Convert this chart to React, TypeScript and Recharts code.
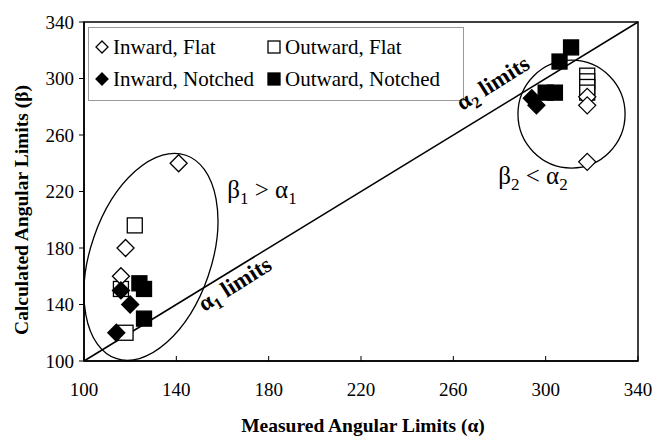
import React from 'react';
import {
  ScatterChart,
  Scatter,
  XAxis,
  YAxis,
  ReferenceLine,
  ReferenceArea,
} from 'recharts';

// measured (alpha) vs calculated (beta) angular limits
const inwardFlat = [
  { x: 141, y: 240 },
  { x: 118, y: 180 },
  { x: 116, y: 160 },
  { x: 318, y: 287 },
  { x: 318, y: 281 },
  { x: 318, y: 241 },
];
const outwardFlat = [
  { x: 122, y: 196 },
  { x: 116, y: 151 },
  { x: 118, y: 120 },
  { x: 318, y: 302 },
  { x: 318, y: 298 },
  { x: 318, y: 294 },
  { x: 318, y: 290 },
];
const inwardNotched = [
  { x: 116, y: 150 },
  { x: 120, y: 140 },
  { x: 114, y: 120 },
  { x: 294, y: 286 },
  { x: 296, y: 281 },
];
const outwardNotched = [
  { x: 124, y: 155 },
  { x: 126, y: 151 },
  { x: 126, y: 130 },
  { x: 311, y: 322 },
  { x: 306, y: 312 },
  { x: 300, y: 290 },
  { x: 304, y: 290 },
];
const ticks = [100, 140, 180, 220, 260, 300, 340];

const FONT = '"Liberation Serif", "Times New Roman", serif';

const Diamond = (props: any) => {
  const { cx, cy, fill } = props;
  const r = 8.5;
  return (
    <polygon
      points={`${cx},${cy - r} ${cx + r},${cy} ${cx},${cy + r} ${cx - r},${cy}`}
      fill={fill}
      stroke="#000"
      strokeWidth={1.3}
    />
  );
};

const Square = (props: any) => {
  const { cx, cy, fill } = props;
  const r = 7.5;
  return <rect x={cx - r} y={cy - r} width={2 * r} height={2 * r} fill={fill} stroke="#000" strokeWidth={1.3} />;
};

// tilted ellipse fitted to the reference area bounding box
const TiltedEllipse = (props: any) => {
  const { x, y, width, height } = props;
  const deg = 19;
  const t = (deg * Math.PI) / 180;
  const s2 = Math.sin(t) ** 2;
  const c2 = Math.cos(t) ** 2;
  const W = width / 2;
  const H = height / 2;
  const a = Math.sqrt((H * H * c2 - W * W * s2) / (c2 - s2));
  const b = Math.sqrt((W * W * c2 - H * H * s2) / (c2 - s2));
  const cx = x + W;
  const cy = y + H;
  return (
    <ellipse cx={cx} cy={cy} rx={b} ry={a} fill="none" stroke="#000" strokeWidth={1.3} transform={`rotate(${deg} ${cx} ${cy})`} />
  );
};

const RoundShape = (props: any) => {
  const { x, y, width, height } = props;
  return <ellipse cx={x + width / 2} cy={y + height / 2} rx={width / 2} ry={height / 2} fill="none" stroke="#000" strokeWidth={1.3} />;
};

const Frame = (props: any) => {
  const { x, y, width, height } = props;
  return <rect x={x} y={y} width={width} height={height} fill="none" stroke="#000" strokeWidth={1.5} />;
};

const LegendMark = ({ kind, filled }: { kind: 'd' | 's'; filled: boolean }) => (
  <svg width={16} height={16} style={{ marginRight: 3 }}>
    {kind === 'd' ? (
      <polygon points="8,2 14,8 8,14 2,8" fill={filled ? '#000' : '#fff'} stroke="#000" strokeWidth={1.3} />
    ) : (
      <rect x={2} y={2} width={12} height={12} fill={filled ? '#000' : '#fff'} stroke="#000" strokeWidth={1.3} />
    )}
  </svg>
);

const legendItem = (label: string, kind: 'd' | 's', filled: boolean, left: number, top: number) => (
  <div style={{ position: 'absolute', left, top, display: 'flex', alignItems: 'center', fontSize: 21, lineHeight: '24px', whiteSpace: 'nowrap' }}>
    <LegendMark kind={kind} filled={filled} />
    {label}
  </div>
);

const App = () => {
  const tickStyle = { fontSize: 19, fill: '#000', fontFamily: FONT };
  return (
    <div style={{ position: 'absolute', left: 0, top: 0, width: 655, height: 440, background: '#fff', fontFamily: FONT }}>
      <ScatterChart width={655} height={440} margin={{ top: 22, right: 17, bottom: 49, left: 24 }}>
        <XAxis
          type="number"
          dataKey="x"
          domain={[100, 340]}
          ticks={ticks}
          height={30}
          axisLine={{ stroke: '#000', strokeWidth: 1.5 }}
          tickLine={{ stroke: '#000' }}
          tickSize={-5}
          tickMargin={27}
          tick={tickStyle}
          allowDataOverflow
        />
        <YAxis
          type="number"
          dataKey="y"
          domain={[100, 340]}
          ticks={ticks}
          width={60}
          axisLine={{ stroke: '#000', strokeWidth: 1.5 }}
          tickLine={{ stroke: '#000' }}
          tickSize={5}
          tickMargin={5}
          tick={tickStyle}
          allowDataOverflow
        />
        <ReferenceArea x1={100} x2={340} y1={100} y2={340} shape={<Frame />} ifOverflow="visible" />
        <ReferenceLine
          segment={[
            { x: 100, y: 100 },
            { x: 340, y: 340 },
          ]}
          stroke="#000"
          strokeWidth={1.5}
        />
        <ReferenceArea x1={100} x2={158} y1={100.5} y2={247} shape={<TiltedEllipse />} ifOverflow="visible" />
        <ReferenceArea x1={288} x2={334.4} y1={236.6} y2={313} shape={<RoundShape />} ifOverflow="visible" />
        <Scatter data={outwardFlat} fill="#fff" shape={<Square />} isAnimationActive={false} />
        <Scatter data={inwardFlat} fill="#fff" shape={<Diamond />} isAnimationActive={false} />
        <Scatter data={inwardNotched} fill="#000" shape={<Diamond />} isAnimationActive={false} />
        <Scatter data={outwardNotched} fill="#000" shape={<Square />} isAnimationActive={false} />
      </ScatterChart>

      <div style={{ position: 'absolute', left: 88, top: 27, width: 374, height: 72, border: '1px solid #999', background: '#fff' }} />
      {legendItem('Inward, Flat', 'd', false, 94, 35)}
      {legendItem('Outward, Flat', 's', false, 266, 35)}
      {legendItem('Inward, Notched', 'd', true, 94, 67)}
      {legendItem('Outward, Notched', 's', true, 266, 67)}

      <div
        style={{
          position: 'absolute',
          left: 494,
          top: 85,
          fontSize: 23,
          fontWeight: 'bold',
          transform: 'translate(-50%, -50%) rotate(-32deg)',
          whiteSpace: 'nowrap',
        }}
      >
        α<sub style={{ fontSize: 16 }}>2</sub> limits
      </div>
      <div
        style={{
          position: 'absolute',
          left: 236,
          top: 286,
          fontSize: 23,
          fontWeight: 'bold',
          transform: 'translate(-50%, -50%) rotate(-32deg)',
          whiteSpace: 'nowrap',
        }}
      >
        α<sub style={{ fontSize: 16 }}>1</sub> limits
      </div>
      <div style={{ position: 'absolute', left: 262, top: 192, fontSize: 25, transform: 'translate(-50%, -50%)', whiteSpace: 'nowrap' }}>
        β<sub style={{ fontSize: 17 }}>1</sub> &gt; α<sub style={{ fontSize: 17 }}>1</sub>
      </div>
      <div style={{ position: 'absolute', left: 533, top: 178, fontSize: 25, transform: 'translate(-50%, -50%)', whiteSpace: 'nowrap' }}>
        β<sub style={{ fontSize: 17 }}>2</sub> &lt; α<sub style={{ fontSize: 17 }}>2</sub>
      </div>

      <div
        style={{
          position: 'absolute',
          left: 22,
          top: 210,
          fontSize: 19.5,
          fontWeight: 'bold',
          transform: 'translate(-50%, -50%) rotate(-90deg)',
          whiteSpace: 'nowrap',
        }}
      >
        Calculated Angular Limits (β)
      </div>
      <div
        style={{
          position: 'absolute',
          left: 363,
          top: 426,
          fontSize: 19.5,
          fontWeight: 'bold',
          transform: 'translate(-50%, -50%)',
          whiteSpace: 'nowrap',
        }}
      >
        Measured Angular Limits (α)
      </div>
    </div>
  );
};

export default App;
